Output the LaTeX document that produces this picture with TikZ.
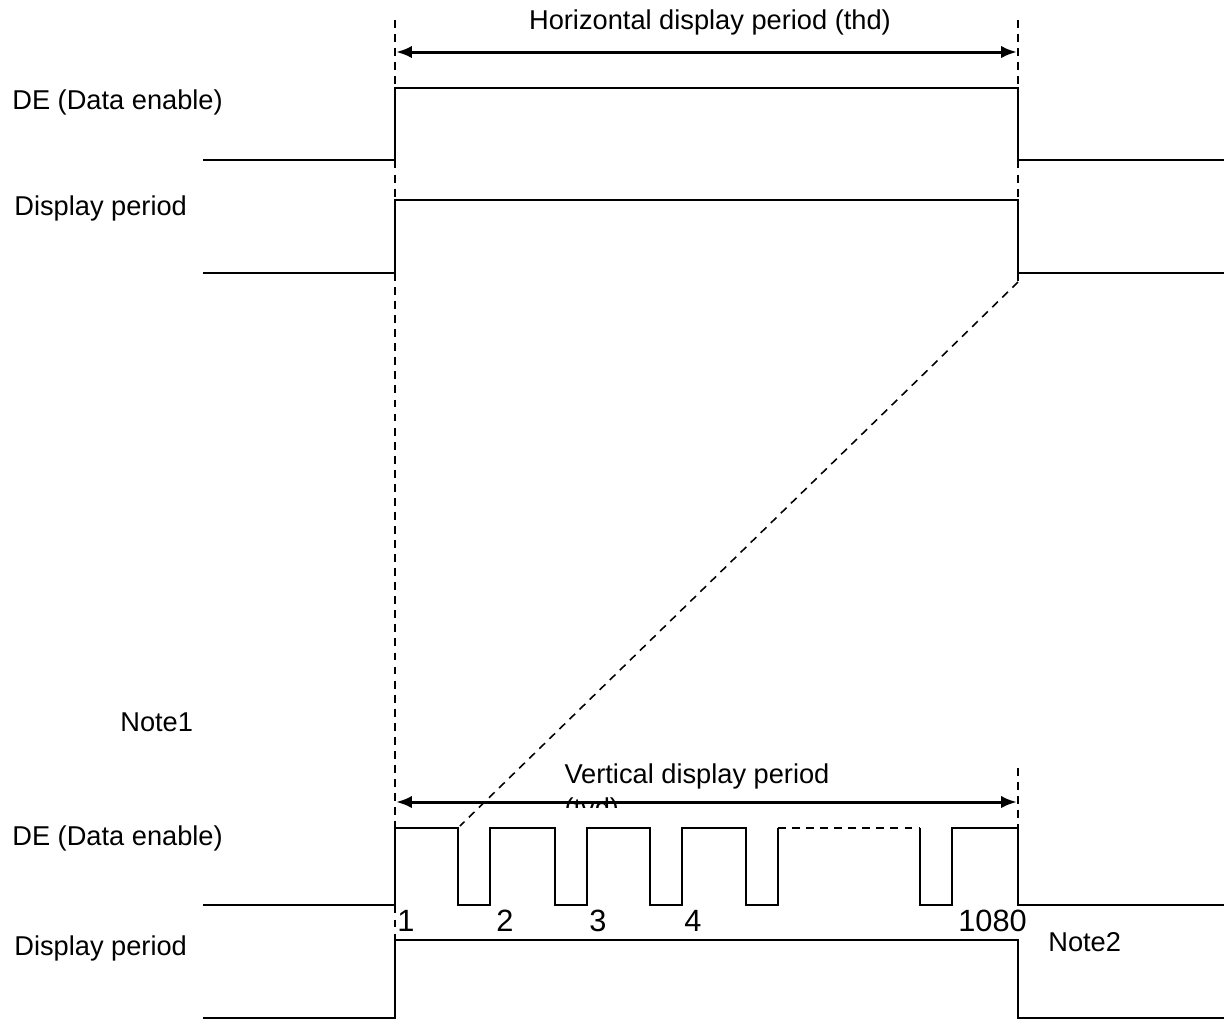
\documentclass[tikz,border=0pt]{standalone}
\usepackage{fontspec}
\setmainfont{Liberation Sans}
\usetikzlibrary{arrows.meta,positioning}

\begin{document}
\begin{tikzpicture}[x=0.02cm, y=-0.02cm,
        wave/.style={line width=0.9pt},
        guide/.style={line width=0.9pt, dash pattern=on 4.5pt off 3.5pt},
        span/.style={{Latex[length=9pt,width=7pt]}-{Latex[length=9pt,width=7pt]}, line width=1.7pt},
        lbl/.style={font=\fontsize{15.5}{18}\selectfont, inner sep=0pt},
        num/.style={font=\fontsize{17.5}{20}\selectfont, inner sep=0pt}]
        \useasboundingbox (0,0) rectangle (1224,1019);

        %% Signal names
        \node[lbl, anchor=west] (de1) at (12,102) {DE (Data enable)};
        \node[lbl, anchor=west] (dp1) at (14,208) {Display period};
        \node[lbl, anchor=west] (de2) at (12,838) {DE (Data enable)};
        \node[lbl, anchor=west] (dp2) at (14,948) {Display period};
        \node[lbl, anchor=west] (n1) at (120,722) {Note1};
        \node[lbl, anchor=west] (n2) at (1048,942) {Note2};

        %% Guides
        \coordinate (gl) at (395,20);
        \coordinate (gr) at (1018,20);
        \coordinate (glb) at (395,940);
        \coordinate (grb) at (1018,282);
        \coordinate (grv) at (1018,768);
        \coordinate (grw) at (1018,828);
        \coordinate (dg) at (460,826);
        \draw[guide] (gl) -- (glb);
        \draw[guide] (gr) -- (grb);
        \draw[guide] (grb) -- (dg);
        \draw[guide] (grv) -- (grw);

        %% Horizontal display period
        \coordinate (ha) at (396,52);
        \coordinate (hb) at (1017,52);
        \draw[span] (ha) -- (hb);
        \node[lbl] (thd) at (710,22) {Horizontal display period (thd)};

        \draw[wave] (203,160) -- (395,160) -- (395,88) -- (1018,88) -- (1018,160) -- (1224,160);
        \draw[wave] (203,273) -- (395,273) -- (395,200) -- (1018,200) -- (1018,273) -- (1224,273);

        %% Vertical display period
        \coordinate (va) at (396,802);
        \coordinate (vb) at (1017,802);
        \node[lbl] (tvd) at (697,776) {Vertical display period};
        \begin{scope}
            \clip (560,790) rectangle (840,807);
            \node[lbl, below=5pt of tvd.south west, anchor=north west] (tvd2) {(tvd)};
        \end{scope}
        \draw[span] (va) -- (vb);

        \draw[wave] (203,905) -- (395,905) -- (395,828) -- (458,828) -- (458,905) -- (490,905)
            -- (490,828) -- (555,828) -- (555,905) -- (587,905) -- (587,828) -- (650,828)
            -- (650,905) -- (682,905) -- (682,828) -- (746,828) -- (746,905) -- (778,905) -- (778,828);
        \draw[guide] (778,828) -- (920,828);
        \draw[wave] (920,828) -- (920,905) -- (952,905) -- (952,828) -- (1018,828) -- (1018,905) -- (1224,905);
        \draw[wave] (203,1018) -- (395,1018) -- (395,940) -- (1018,940) -- (1018,1018) -- (1224,1018);

        %% Line numbers
        \node[num, anchor=west] (l1) at (397,921) {1};
        \node[num, anchor=west] (l2) at (496,921) {2};
        \node[num, anchor=west] (l3) at (589,921) {3};
        \node[num, anchor=west] (l4) at (684,921) {4};
        \node[num, anchor=west] (l1080) at (958,921) {1080};
\end{tikzpicture}
\end{document}
